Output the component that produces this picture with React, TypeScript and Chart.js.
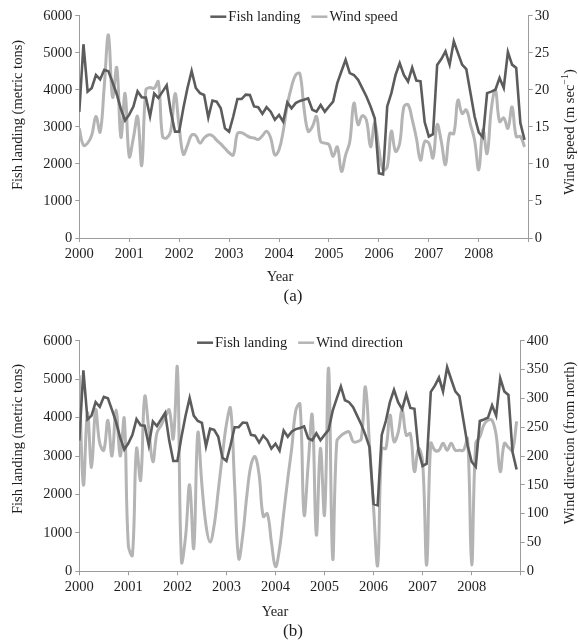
import React, { useEffect, useRef } from 'react';
import { Chart, registerables } from 'chart.js';

Chart.register(...registerables);

// Monthly values, Jan 2000 – Dec 2008
const fishLanding = [
  3400, 5230, 3950, 4050, 4400, 4280, 4540, 4500, 4200, 3880, 3480, 3170,
  3330, 3550, 3960, 3800, 3790, 3280, 3900, 3780, 3950, 4120, 3400, 2870,
  2870, 3500, 4050, 4510, 4050, 3910, 3860, 3250, 3710, 3680, 3500, 2960,
  2870, 3280, 3750, 3750, 3870, 3860, 3550, 3530, 3350, 3530, 3410, 3190,
  3320, 3140, 3660, 3500, 3640, 3700, 3730, 3770, 3460, 3410, 3590, 3410,
  3550, 3680, 4180, 4500, 4810, 4450, 4400, 4270, 4045, 3820, 3550, 3230,
  1750, 1720, 3550, 3910, 4400, 4720, 4400, 4220, 4600, 4250, 4230, 3130,
  2740, 2800, 4670, 4830, 5040, 4680, 5310, 4990, 4680, 4560, 3920, 3280,
  2850, 2720, 3910, 3950, 4000, 4320, 4050, 5020, 4680, 4590, 3100, 2650,
];

const windSpeed = [
  14.8, 12.5, 12.8, 13.9, 16.4, 14.3, 20.5, 27.4, 19.0, 23.0, 13.6, 19.5,
  11.0, 13.5, 16.4, 9.8, 20.0, 20.3, 20.2, 21.1, 13.7, 13.5, 14.5, 19.5,
  15.0, 11.3, 12.5, 13.9, 13.8, 12.8, 13.5, 13.9, 13.8, 13.2, 12.7, 12.1,
  11.5, 11.2, 14.1, 14.2, 13.9, 13.6, 13.5, 13.3, 13.8, 14.4, 13.5, 11.2,
  11.9, 14.4, 18.0, 20.4, 22.0, 22.2, 17.5, 14.4, 15.0, 16.4, 13.0, 12.8,
  12.6, 11.0, 12.3, 9.0, 11.2, 13.0, 18.2, 15.3, 16.5, 15.9, 12.3, 15.5,
  12.0, 9.2, 9.6, 14.4, 11.7, 12.8, 17.7, 18.0, 16.0, 13.5, 10.5, 13.0,
  12.8, 10.8, 15.3, 13.0, 9.9, 14.1, 14.1, 18.6, 16.8, 17.3, 15.3, 13.2,
  9.2, 14.6, 11.4, 17.3, 20.0, 15.7, 16.2, 14.8, 17.7, 13.7, 13.7, 12.3,
];

const windDirection = [
  340, 150, 275, 180, 280, 222, 210, 262, 200, 280, 200, 265,
  45, 28, 213, 158, 303, 247, 190, 240, 253, 267, 280, 230,
  353, 17, 60, 150, 40, 240, 150, 80, 51, 80, 140, 200,
  255, 283, 150, 22, 63, 132, 184, 199, 167, 95, 100, 51,
  8, 40, 100, 160, 215, 280, 290, 98, 185, 271, 63, 213,
  98, 352, 22, 225, 235, 240, 242, 225, 225, 230, 320, 220,
  110, 10, 213, 213, 271, 225, 240, 280, 236, 239, 173, 213,
  190, 11, 222, 210, 210, 222, 210, 222, 210, 210, 210, 230,
  11, 222, 233, 254, 262, 262, 236, 173, 222, 215, 210, 260,
];

const yearLabels = ['2000', '2001', '2002', '2003', '2004', '2005', '2006', '2007', '2008'];
const monthsPerYear = 12;

const FONT = '"Liberation Serif", "Times New Roman", serif';
const TEXT = '#1e1e1e';
const AXIS = '#9c9c9c';
const DARK = '#5c5c5c';
const LIGHT = '#b4b4b4';

type Part = { text: string; size: number; rise?: number };

type Panel = {
  top: number;
  height: number;
  padTop: number;
  leftW: number;
  rightW: number;
  xH: number;
  series: number[];
  seriesLabel: string;
  rightMax: number;
  rightStep: number;
  rightTitle: Part[];
  leftTitlePos: [number, number];
  rightTitlePos: [number, number];
  yearPos: [number, number];
  letter: string;
  letterPos: [number, number];
  legendDy: number;
};

const FS = 14.5;

const panels: Panel[] = [
  {
    top: 0,
    height: 310,
    padTop: 15.7,
    leftW: 79.3,
    rightW: 49.3,
    xH: 72,
    series: windSpeed,
    seriesLabel: 'Wind speed',
    rightMax: 30,
    rightStep: 5,
    rightTitle: [
      { text: 'Wind speed (m sec', size: FS },
      { text: '\u22121', size: 10, rise: -5 },
      { text: ')', size: FS },
    ],
    leftTitlePos: [18, 115],
    rightTitlePos: [570, 132],
    yearPos: [280, 277],
    letter: '(a)',
    letterPos: [293, 297],
    legendDy: 1,
  },
  {
    top: 310,
    height: 332,
    padTop: 30.7,
    leftW: 79.3,
    rightW: 57.3,
    xH: 70.7,
    series: windDirection,
    seriesLabel: 'Wind direction',
    rightMax: 400,
    rightStep: 50,
    rightTitle: [{ text: 'Wind direction (from north)', size: FS }],
    leftTitlePos: [18, 129],
    rightTitlePos: [570, 133],
    yearPos: [275, 301.7],
    letter: '(b)',
    letterPos: [293, 322],
    legendDy: 2,
  },
];

function drawRich(ctx: CanvasRenderingContext2D, parts: Part[], cx: number, cy: number, rot: number) {
  ctx.save();
  ctx.translate(cx, cy);
  ctx.rotate(rot);
  ctx.textBaseline = 'middle';
  ctx.textAlign = 'left';
  ctx.fillStyle = TEXT;
  const widths = parts.map((p) => {
    ctx.font = `${p.size}px ${FONT}`;
    return ctx.measureText(p.text).width;
  });
  const total = widths.reduce((a, b) => a + b, 0);
  let x = -total / 2;
  parts.forEach((p, i) => {
    ctx.font = `${p.size}px ${FONT}`;
    ctx.fillText(p.text, x, p.rise || 0);
    x += widths[i];
  });
  ctx.restore();
}

function buildChart(canvas: HTMLCanvasElement, p: Panel) {
  const months = fishLanding.map((_, i) => i);
  const xMax = yearLabels.length * monthsPerYear;

  const textPlugin = {
    id: 'texts' + p.letter,
    afterDraw(chart: any) {
      const ctx: CanvasRenderingContext2D = chart.ctx;
      const ca = chart.chartArea;
      // legend
      ctx.save();
      ctx.font = `${FS}px ${FONT}`;
      ctx.textBaseline = 'middle';
      ctx.textAlign = 'left';
      const sample = 16;
      const gapT = 2;
      const gapItem = 11;
      const items = chart.data.datasets.map((d: any) => ({
        label: d.label,
        color: d.borderColor,
        w: ctx.measureText(d.label).width,
      }));
      const total =
        items.reduce((s: number, it: any) => s + sample + gapT + it.w, 0) + gapItem * (items.length - 1);
      let x = (ca.left + ca.right) / 2 - total / 2;
      const y = ca.top + p.legendDy;
      items.forEach((it: any) => {
        ctx.strokeStyle = it.color;
        ctx.lineWidth = 2.5;
        ctx.beginPath();
        ctx.moveTo(x, y);
        ctx.lineTo(x + sample, y);
        ctx.stroke();
        x += sample + gapT;
        ctx.fillStyle = TEXT;
        ctx.fillText(it.label, x, y);
        x += it.w + gapItem;
      });
      ctx.restore();

      drawRich(ctx, [{ text: 'Fish landing (metric tons)', size: FS }], p.leftTitlePos[0], p.leftTitlePos[1], -Math.PI / 2);
      drawRich(ctx, p.rightTitle, p.rightTitlePos[0], p.rightTitlePos[1], -Math.PI / 2);
      drawRich(ctx, [{ text: 'Year', size: FS }], p.yearPos[0], p.yearPos[1], 0);
      drawRich(ctx, [{ text: p.letter, size: 17 }], p.letterPos[0], p.letterPos[1], 0);
    },
  };

  const tickFont = { family: FONT, size: FS };
  const plain = (v: any) => String(v);

  return new Chart(canvas, {
    type: 'line',
    data: {
      labels: months,
      datasets: [
        {
          label: 'Fish landing',
          data: fishLanding,
          borderColor: DARK,
          borderWidth: 2.6,
          pointRadius: 0,
          tension: 0,
          yAxisID: 'y',
        },
        {
          label: p.seriesLabel,
          data: p.series,
          borderColor: LIGHT,
          borderWidth: 3,
          pointRadius: 0,
          tension: 0.4,
          yAxisID: 'y1',
        },
      ],
    },
    options: {
      responsive: false,
      animation: false,
      layout: { padding: { top: p.padTop, left: 0, right: 0, bottom: 0 } },
      plugins: { legend: { display: false }, tooltip: { enabled: false } },
      scales: {
        x: {
          type: 'linear',
          min: 0,
          max: xMax,
          afterFit: (s: any) => {
            s.height = p.xH;
          },
          ticks: {
            stepSize: monthsPerYear,
            autoSkip: false,
            maxRotation: 0,
            padding: 3,
            color: TEXT,
            font: tickFont,
            callback: (v: any) => {
              const k = Number(v) / monthsPerYear;
              return Number.isInteger(k) && k < yearLabels.length ? yearLabels[k] : '';
            },
          },
          grid: { drawOnChartArea: false, drawTicks: true, tickLength: 4, color: AXIS },
          border: { display: true, color: AXIS, width: 1 },
        },
        y: {
          position: 'left',
          min: 0,
          max: 6000,
          afterFit: (s: any) => {
            s.width = p.leftW;
          },
          ticks: { stepSize: 1000, padding: 3, color: TEXT, font: tickFont, callback: plain },
          grid: { drawOnChartArea: false, drawTicks: true, tickLength: 4, color: AXIS },
          border: { display: true, color: AXIS, width: 1 },
        },
        y1: {
          position: 'right',
          min: 0,
          max: p.rightMax,
          afterFit: (s: any) => {
            s.width = p.rightW;
          },
          ticks: { stepSize: p.rightStep, padding: 2, color: TEXT, font: tickFont, callback: plain },
          grid: { drawOnChartArea: false, drawTicks: true, tickLength: 4, color: AXIS },
          border: { display: true, color: AXIS, width: 1 },
        },
      },
    },
    plugins: [textPlugin],
  } as any);
}

function PanelChart({ panel }: { panel: Panel }) {
  const ref = useRef<HTMLCanvasElement | null>(null);
  useEffect(() => {
    if (!ref.current) return;
    const chart = buildChart(ref.current, panel);
    return () => chart.destroy();
  }, [panel]);
  return (
    <canvas
      ref={ref}
      width={578}
      height={panel.height}
      style={{ position: 'absolute', left: 0, top: panel.top, width: 578, height: panel.height, display: 'block' }}
    />
  );
}

export default function App() {
  return (
    <div style={{ position: 'absolute', left: 0, top: 0, width: 578, height: 642, background: '#fff' }}>
      {panels.map((p) => (
        <PanelChart key={p.letter} panel={p} />
      ))}
    </div>
  );
}
